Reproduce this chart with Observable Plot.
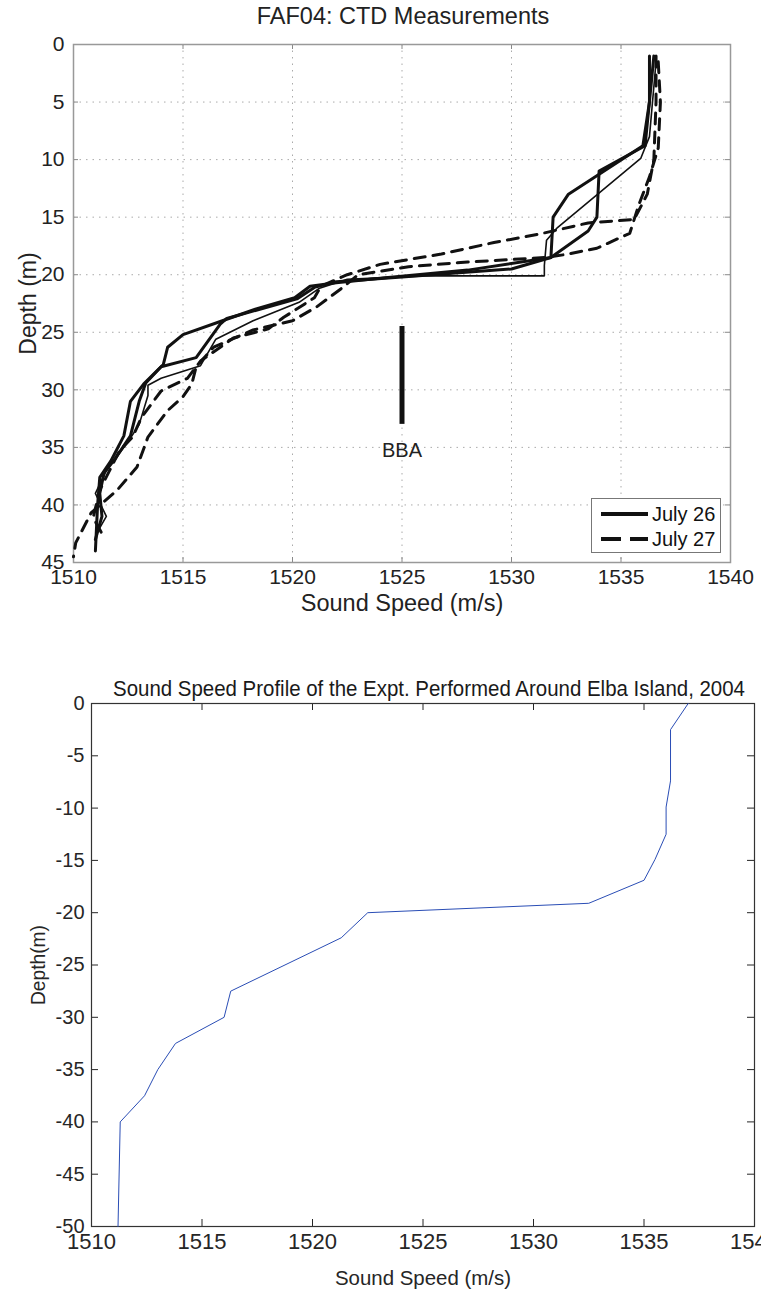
<!DOCTYPE html>
<html><head><meta charset="utf-8">
<script src="https://cdn.jsdelivr.net/npm/d3@7"></script>
<script src="https://cdn.jsdelivr.net/npm/@observablehq/plot@0.6"></script>
<style>
html,body{margin:0;padding:0;background:#fff;}
body{width:761px;height:1291px;position:relative;overflow:hidden;}
.abs{position:absolute;}
.t1{font-family:"Liberation Sans",Arial,sans-serif;color:#222;white-space:nowrap;}
</style></head><body>
<div id="c1" class="abs" style="left:0;top:0"></div>
<div id="c2" class="abs" style="left:0;top:640px"></div>
<div class="abs t1" id="title1" style="left:0;width:806px;top:3px;text-align:center;font-size:23.5px;">FAF04: CTD Measurements</div>
<div id="legend" class="abs t1" style="left:591px;top:498px;width:130px;height:55px;border:1.5px solid #777;background:#fff;box-sizing:border-box;font-size:20px;color:#111;"></div>
<script>
// ---------- Chart 1: FAF04 CTD measurements (speed m/s, depth m) ----------
const xTicks1 = [1510, 1515, 1520, 1525, 1530, 1535, 1540];
const yTicks1 = [0, 5, 10, 15, 20, 25, 30, 35, 40, 45];
const legendLabels = ["July 26", "July 27"];

// July 26 profiles: [speed, depth]
const jul26a = [[1536.5,1],[1536.4,3],[1536.1,8.8],[1534.0,11],[1533.9,15],[1533.5,16.2],[1531.8,18.5],[1528,19.6],[1524,20.3],[1522,20.7],[1520.8,21.0],[1520.1,22.0],[1518.3,23.0],[1516.8,24.0],[1515.0,25.2],[1514.3,26.3],[1514.1,27.8],[1513.2,29.5],[1512.6,31.0],[1512.3,34.0],[1511.7,36.2],[1511.2,37.6],[1511.1,40],[1511.0,44]];
const jul26b = [[1536.3,1],[1536.3,5],[1536.0,8.8],[1532.6,13],[1531.9,15],[1531.8,18.5],[1530,19.5],[1525,20.2],[1522,20.6],[1521,21.1],[1520.2,22.1],[1517.0,23.8],[1516.7,24.3],[1515.6,27.2],[1514.0,28.0],[1513.3,29.4],[1513.0,31],[1512.6,34],[1511.9,36],[1511.4,37.2],[1511.2,39],[1511.3,41],[1511.0,43]];
const jul26c = [[1536.6,1.5],[1536.3,8],[1535.9,9.9],[1532.1,15.9],[1531.6,17.0],[1531.5,19.2],[1531.5,20.1],[1526,20.1],[1522.5,20.4],[1521.2,21.2],[1520.3,22.4],[1518.2,24],[1516.5,25.6],[1515.8,27.9],[1514,29.0],[1513.4,29.6],[1513.4,30.5],[1513.0,33],[1512.5,34.5],[1511.5,37],[1511.0,39],[1511.5,41],[1511.2,42]];
// July 27 profiles: [speed, depth]
const jul27a = [[1536.6,1],[1536.6,5],[1536.5,10],[1536.2,13],[1535.6,15.2],[1533.5,15.5],[1531.2,16.5],[1529.2,17.2],[1526.8,18.2],[1524.0,19.1],[1522.5,20.0],[1521.3,21.0],[1521.0,22.0],[1519.6,23.7],[1518.9,24.7],[1517.3,25.5],[1515.8,27.5],[1515.2,29.0],[1514.0,30.1],[1513.1,32.4],[1512.7,34.1],[1512.1,35.3],[1511.2,38.7],[1510.9,41.1],[1511.3,42.5]];
const jul27b = [[1536.7,1.5],[1536.8,5],[1536.7,9],[1536.3,11.5],[1535.8,14],[1535.4,16.4],[1533.9,17.7],[1532.6,18.2],[1531.6,18.5],[1528,18.9],[1525.3,19.3],[1523.0,20.0],[1522.3,21.1],[1521.1,22.8],[1520.0,24.0],[1518.2,24.8],[1516.4,26.3],[1515.6,28.0],[1515.4,29.5],[1515.0,30.6],[1514.3,31.8],[1513.4,34.1],[1512.9,36.7],[1512.0,38.7],[1510.8,40.7],[1510.1,43.3],[1510.0,44.5]];
const bba = [{name: "BBA", speed: 1525, top: 24.5, bottom: 33, label: 35.3}];

const toRows = (arr, id, date) => arr.map(([speed, depth]) => ({id, date, speed, depth}));
const thick26 = [...toRows(jul26a, "a", legendLabels[0]), ...toRows(jul26b, "b", legendLabels[0])];
const thin26 = toRows(jul26c, "c", legendLabels[0]);
const dash27 = [...toRows(jul27a, "a", legendLabels[1]), ...toRows(jul27b, "b", legendLabels[1])];

const W = 761;
const m1 = {top: 44, right: 31, bottom: 63, left: 73}, H1 = 625;
const pw1 = W - m1.left - m1.right, ph1 = H1 - m1.top - m1.bottom;
const tickLen1 = 5;
const grid1x = xTicks1.slice(1, -1), grid1y = yTicks1.slice(1, -1);
const fmt = d => String(d);

const chart1 = Plot.plot({
  width: W, height: H1,
  marginTop: m1.top, marginRight: m1.right, marginBottom: m1.bottom, marginLeft: m1.left,
  style: {fontFamily: "'Liberation Sans', Arial, sans-serif", color: "#222", background: "white", overflow: "visible"},
  x: {domain: [1510, 1540]},
  y: {domain: [0, 45], reverse: true},
  marks: [
    Plot.ruleX(grid1x, {x: d => d, stroke: "#aaa", strokeDasharray: "1.5,5"}),
    Plot.ruleY(grid1y, {y: d => d, stroke: "#aaa", strokeDasharray: "1.5,5"}),
    Plot.tickX(xTicks1, {x: d => d, insetTop: ph1 - tickLen1, stroke: "#888"}),
    Plot.tickX(xTicks1, {x: d => d, insetBottom: ph1 - tickLen1, stroke: "#888"}),
    Plot.tickY(yTicks1, {y: d => d, insetRight: pw1 - tickLen1, stroke: "#888"}),
    Plot.tickY(yTicks1, {y: d => d, insetLeft: pw1 - tickLen1, stroke: "#888"}),
    Plot.frame({stroke: "#999", strokeWidth: 1.5}),
    Plot.axisX(xTicks1, {tickSize: 0, tickPadding: 7, fontSize: 21, label: null, tickFormat: fmt}),
    Plot.axisY(yTicks1, {tickSize: 0, tickPadding: 9, fontSize: 21, label: null, tickFormat: fmt}),
    Plot.text(["Sound Speed (m/s)"], {frameAnchor: "bottom", lineAnchor: "middle", textAnchor: "middle", dy: 41, fontSize: 23.5, fill: "#222"}),
    Plot.text(["Depth (m)"], {frameAnchor: "left", lineAnchor: "middle", textAnchor: "middle", rotate: -90, dx: -45, fontSize: 23, fill: "#222"}),
    Plot.line(dash27, {x: "speed", y: "depth", z: "id", stroke: "#111", strokeWidth: 3, strokeDasharray: "11,8"}),
    Plot.line(thick26, {x: "speed", y: "depth", z: "id", stroke: "#111", strokeWidth: 3}),
    Plot.line(thin26, {x: "speed", y: "depth", z: "id", stroke: "#111", strokeWidth: 1.6}),
    Plot.ruleX(bba, {x: "speed", y1: "top", y2: "bottom", stroke: "#111", strokeWidth: 5}),
    Plot.text(bba, {x: "speed", y: "label", text: "name", fontSize: 20, fill: "#222"})
  ]
});
document.getElementById("c1").appendChild(chart1);

// legend
const leg = document.getElementById("legend");
legendLabels.forEach((lab, i) => {
  const row = document.createElement("div");
  row.style.cssText = "position:absolute;left:9px;top:" + (i === 0 ? 3 : 28) + "px;height:24px;display:flex;align-items:center;";
  row.innerHTML = `<svg width="48" height="10" style="margin-right:3px"><line x1="0" y1="5" x2="47" y2="5" stroke="#111" stroke-width="4" ${i === 1 ? 'stroke-dasharray="20,9"' : ''}/></svg><span>${lab}</span>`;
  leg.appendChild(row);
});

// ---------- Chart 2: Sound speed profile, Elba Island 2004 ----------
const title2 = "Sound Speed Profile of the Expt. Performed Around Elba Island, 2004";
const xTicks2 = [1510, 1515, 1520, 1525, 1530, 1535, 1540];
const yTicks2 = [0, -5, -10, -15, -20, -25, -30, -35, -40, -45, -50];
const sspDepth = [0, -2.5, -7.4, -9.9, -12.5, -14.9, -16.9, -19.1, -20, -22.4, -27.5, -30, -32.5, -35, -37.5, -40, -50];
const sspSpeed = [1537.0, 1536.2, 1536.2, 1536.0, 1536.0, 1535.5, 1535.0, 1532.5, 1522.5, 1521.3, 1516.3, 1516.0, 1513.8, 1513.0, 1512.4, 1511.3, 1511.2];
const ssp = sspDepth.map((d, i) => ({depth: d, speed: sspSpeed[i]}));

const m2 = {top: 63, right: 7, bottom: 65, left: 91}, H2 = 651;
const pw2 = W - m2.left - m2.right, ph2 = H2 - m2.top - m2.bottom;
const tickLen2 = 7;

const chart2 = Plot.plot({
  width: W, height: H2,
  marginTop: m2.top, marginRight: m2.right, marginBottom: m2.bottom, marginLeft: m2.left,
  style: {fontFamily: "'Liberation Sans', Arial, sans-serif", color: "#262626", background: "white", overflow: "visible"},
  x: {domain: [1510, 1540]},
  y: {domain: [-50, 0]},
  marks: [
    Plot.tickX(xTicks2, {x: d => d, insetTop: ph2 - tickLen2, stroke: "#262626"}),
    Plot.tickX(xTicks2, {x: d => d, insetBottom: ph2 - tickLen2, stroke: "#262626"}),
    Plot.tickY(yTicks2, {y: d => d, insetRight: pw2 - tickLen2, stroke: "#262626"}),
    Plot.tickY(yTicks2, {y: d => d, insetLeft: pw2 - tickLen2, stroke: "#262626"}),
    Plot.frame({stroke: "#333", strokeWidth: 1.2}),
    Plot.axisX(xTicks2, {tickSize: 0, tickPadding: 7, fontSize: 22, label: null, tickFormat: fmt}),
    Plot.axisY(yTicks2, {tickSize: 0, tickPadding: 7, fontSize: 20, label: null, tickFormat: fmt}),
    Plot.text([title2], {frameAnchor: "top", lineAnchor: "middle", textAnchor: "middle", dy: -15, dx: 6, fontSize: 22, fill: "#1a1a1a"}),
    Plot.text(["Sound Speed (m/s)"], {frameAnchor: "bottom", lineAnchor: "middle", textAnchor: "middle", dy: 52, fontSize: 21, fill: "#262626"}),
    Plot.text(["Depth(m)"], {frameAnchor: "left", lineAnchor: "middle", textAnchor: "middle", rotate: -90, dx: -53, fontSize: 21, fill: "#262626"}),
    Plot.line(ssp, {x: "speed", y: "depth", stroke: "#2a4db5", strokeWidth: 1})
  ]
});
document.getElementById("c2").appendChild(chart2);

// narrow the MATLAB-style title and labels of the second chart
function squeeze(t, target) {
  t.setAttribute("textLength", target);
  t.setAttribute("lengthAdjust", "spacingAndGlyphs");
}
chart2.querySelectorAll("text").forEach(t => {
  const s = t.textContent;
  if (s === title2) squeeze(t, 632);
  else if (s === "Sound Speed (m/s)") squeeze(t, 176);
  else if (s === "Depth(m)") squeeze(t, 80);
});
</script>
</body></html>
